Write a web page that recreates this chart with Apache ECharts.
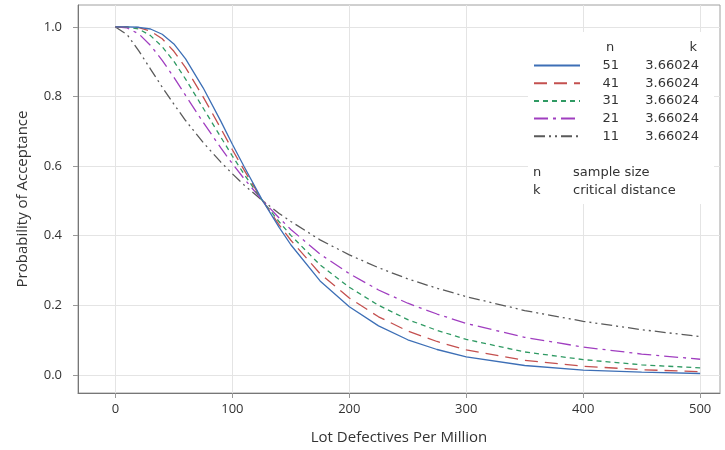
<!DOCTYPE html>
<html>
<head>
<meta charset="utf-8">
<title>OC curves</title>
<script src="https://cdn.jsdelivr.net/npm/echarts@6/dist/echarts.min.js"></script>
<style>
  html, body { margin: 0; padding: 0; background: #fff; }
  #main { width: 725px; height: 450px; }
</style>
</head>
<body>
<div id="main"></div>
<script>
// lot defectives per million (x)
var defectsPpm = [0, 10, 20, 30, 40, 50, 60, 75, 90, 100, 110, 125, 140, 150, 175, 200, 225, 250, 275, 300, 350, 400, 450, 500];

// probability of acceptance, one list per sample size n
var pa51 = [1.000, 1.000, 0.999, 0.994, 0.979, 0.951, 0.908, 0.825, 0.730, 0.663, 0.599, 0.506, 0.424, 0.374, 0.270, 0.196, 0.141, 0.101, 0.073, 0.052, 0.027, 0.014, 0.008, 0.004];
var pa41 = [1.000, 1.000, 0.998, 0.988, 0.966, 0.930, 0.883, 0.799, 0.709, 0.647, 0.589, 0.505, 0.431, 0.387, 0.291, 0.221, 0.167, 0.126, 0.096, 0.072, 0.042, 0.025, 0.015, 0.009];
var pa31 = [1.000, 1.000, 0.994, 0.975, 0.943, 0.901, 0.850, 0.767, 0.684, 0.629, 0.577, 0.504, 0.440, 0.401, 0.316, 0.252, 0.200, 0.159, 0.128, 0.102, 0.066, 0.044, 0.029, 0.020];
var pa21 = [1.000, 0.997, 0.980, 0.947, 0.904, 0.855, 0.803, 0.726, 0.653, 0.607, 0.564, 0.504, 0.451, 0.418, 0.347, 0.291, 0.244, 0.206, 0.175, 0.148, 0.108, 0.080, 0.060, 0.045];
var pa11 = [1.000, 0.978, 0.931, 0.879, 0.827, 0.778, 0.731, 0.668, 0.612, 0.578, 0.546, 0.503, 0.464, 0.441, 0.388, 0.345, 0.308, 0.276, 0.249, 0.225, 0.185, 0.154, 0.130, 0.110];

var sampleSizes = ["51", "41", "31", "21", "11"];
var criticalK = ["3.66024", "3.66024", "3.66024", "3.66024", "3.66024"];

var xTicks = [0, 100, 200, 300, 400, 500];
var yTicks = [0, 0.2, 0.4, 0.6, 0.8, 1.0];

var myChart = echarts.init(document.getElementById("main"));

var paList = [pa51, pa41, pa31, pa21, pa11];
var colors = ["#3d6fb6", "#c4504f", "#2f9a63", "#a03ec0", "#5a5a5a"];
var dashes = ["solid", [13, 7], [5, 4], [14, 5, 3, 5], [11, 4, 2, 4, 2, 4]];

var font = "Open Sans";
var legendFont = "DejaVu Sans";

var series = sampleSizes.map(function (n, i) {
    return {
        name: n,
        type: "line",
        showSymbol: false,
        symbol: "none",
        smooth: false,
        data: defectsPpm.map(function (x, j) { return [x, paList[i][j]]; }),
        lineStyle: { color: colors[i], width: 1.3, type: dashes[i] },
        itemStyle: { color: colors[i] },
        z: 10 - i
    };
});

var option = {
    animation: false,
    backgroundColor: "#fff",
    grid: {
        left: 78, right: 5, top: 5, bottom: 57,
        show: true, borderColor: "#a0a0a0", borderWidth: 1
    },
    xAxis: {
        type: "value",
        min: -32, max: 517,
        name: "Lot Defectives Per Million",
        nameLocation: "middle",
        nameGap: 37,
        nameTextStyle: { fontFamily: font, fontSize: 15, color: "#333" },
        axisLine: { show: true, onZero: false, lineStyle: { color: "#777" } },
        axisTick: { show: true, customValues: xTicks, length: 5, lineStyle: { color: "#999" } },
        axisLabel: { customValues: xTicks, fontFamily: font, fontSize: 13, color: "#333", margin: 10 },
        splitLine: { show: true, lineStyle: { color: "#e4e4e4" } }
    },
    yAxis: {
        type: "value",
        min: -0.052, max: 1.063,
        name: "Probability of Acceptance",
        nameLocation: "middle",
        nameGap: 48,
        nameTextStyle: { fontFamily: font, fontSize: 15, color: "#333" },
        axisLine: { show: true, onZero: false, lineStyle: { color: "#777" } },
        axisTick: { show: true, customValues: yTicks, length: 5, lineStyle: { color: "#999" } },
        axisLabel: {
            customValues: yTicks, fontFamily: font, fontSize: 13, color: "#333", margin: 16,
            formatter: function (v) { return v.toFixed(1); }
        },
        splitLine: { show: true, lineStyle: { color: "#e4e4e4" } }
    },
    legend: {
        orient: "vertical",
        left: 533, top: 59,
        padding: 0,
        itemWidth: 46, itemHeight: 12, itemGap: 4.7,
        // hide the symbol dot, keep the line sample
        itemStyle: { opacity: 0 },
        data: sampleSizes,
        formatter: function (name) {
            return "{n|" + name + "}{k|" + criticalK[sampleSizes.indexOf(name)] + "}";
        },
        textStyle: {
            color: "#333",
            rich: {
                n: { fontFamily: legendFont, fontSize: 13, width: 34, align: "right" },
                k: { fontFamily: legendFont, fontSize: 13, width: 80, align: "right" }
            }
        }
    },
    graphic: [
        // white box behind the legend block
        { type: "rect", shape: { x: 528, y: 32, width: 186, height: 172 }, style: { fill: "#fff" }, z: 3, silent: true },
        { type: "text", x: 610, y: 48, style: { text: "n", font: "13px " + legendFont, fill: "#333", align: "center", verticalAlign: "middle" }, z: 5 },
        { type: "text", x: 697, y: 48, style: { text: "k", font: "13px " + legendFont, fill: "#333", align: "right", verticalAlign: "middle" }, z: 5 },
        { type: "text", x: 533, y: 173, style: { text: "n", font: "13px " + legendFont, fill: "#333", verticalAlign: "middle" }, z: 5 },
        { type: "text", x: 573, y: 173, style: { text: "sample size", font: "13px " + legendFont, fill: "#333", verticalAlign: "middle" }, z: 5 },
        { type: "text", x: 533, y: 191, style: { text: "k", font: "13px " + legendFont, fill: "#333", verticalAlign: "middle" }, z: 5 },
        { type: "text", x: 573, y: 191, style: { text: "critical distance", font: "13px " + legendFont, fill: "#333", verticalAlign: "middle" }, z: 5 }
    ],
    series: series
};

myChart.setOption(option);
</script>
</body>
</html>
